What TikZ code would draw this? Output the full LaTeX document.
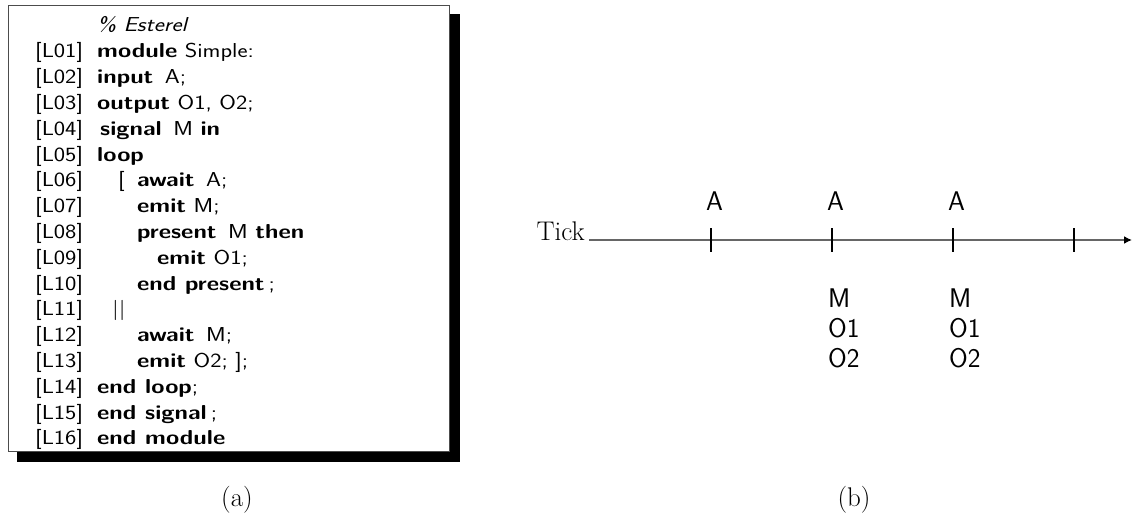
\documentclass[tikz,border=0pt]{standalone}
\usetikzlibrary{arrows.meta}
\newcommand\codefont{\fontsize{24}{26}\selectfont\sffamily}
\newcommand\cs[1]{\scalebox{1}[0.84]{#1}}
\tikzset{
  code/.style={anchor=base west, inner sep=0pt, font=\codefont},
  lab/.style={inner sep=0pt, font=\fontsize{27}{30}\selectfont\sffamily},
  serif/.style={inner sep=0pt, font=\fontsize{27}{30}\selectfont\rmfamily},
  boxline/.style={draw=black!70, line width=0.9pt, fill=white},
  tickline/.style={black, line width=1.2pt},
  axis/.style={black!60, line width=1.6pt, -{Latex[length=8pt,width=8pt,color=black]}}
}
\begin{document}
\begin{tikzpicture}[x=1pt,y=-1pt]
\useasboundingbox (0,0) rectangle (1132,527);
% code box with shadow
\fill[black] (17,14) rectangle (460,462);
\draw[boxline] (8,5) rectangle (449,451);
\node[code] (c0) at (97,{32}) {\cs{\itshape\% Esterel}};
\foreach \k/\lab in {1/L01,2/L02,3/L03,4/L04,5/L05,6/L06,7/L07,8/L08,9/L09,10/L10,11/L11,12/L12,13/L13,14/L14,15/L15,16/L16}{
  \node[code] (lb\k) at (35,{32+\k*25.8}) {\cs{[\lab]}};
}
\node[code] (c1) at (97,{32+1*25.8}) {\cs{\textbf{module} Simple:}};
\node[code] (c2) at (97,{32+2*25.8}) {\cs{\textbf{input}\, A;}};
\node[code] (c3) at (97,{32+3*25.8}) {\cs{\textbf{output} O1, O2;}};
\node[code] (c4) at (100,{32+4*25.8}) {\cs{\textbf{signal}\, M \textbf{in}}};
\node[code] (c5) at (97,{32+5*25.8}) {\cs{\textbf{loop}}};
\node[code] (c6a) at (118,{32+6*25.8}) {\cs{[}};
\node[code] (c6) at (137,{32+6*25.8}) {\cs{\textbf{await}\, A;}};
\node[code] (c7) at (137,{32+7*25.8}) {\cs{\textbf{emit} M;}};
\node[code] (c8) at (137,{32+8*25.8}) {\cs{\textbf{present}\, M \textbf{then}}};
\node[code] (c9) at (157,{32+9*25.8}) {\cs{\textbf{emit} O1;}};
\node[code] (c10) at (137,{32+10*25.8}) {\cs{\textbf{end present}\,;}};
\node[code] (c11) at (112,{32+11*25.8}) {\cs{||}};
\node[code] (c12) at (137,{32+12*25.8}) {\cs{\textbf{await}\, M;}};
\node[code] (c13) at (137,{32+13*25.8}) {\cs{\textbf{emit} O2; ];}};
\node[code] (c14) at (97,{32+14*25.8}) {\cs{\textbf{end loop};}};
\node[code] (c15) at (97,{32+15*25.8}) {\cs{\textbf{end signal}\,;}};
\node[code] (c16) at (97,{32+16*25.8}) {\cs{\textbf{end module}}};
% captions
\node[serif, anchor=base] (capa) at (237,506) {(a)};
\node[serif, anchor=base] (capb) at (854,506) {(b)};
% timeline
\node[serif, anchor=base east] (tick) at (585,240) {Tick};
\coordinate (s) at (589,240);
\coordinate (e) at (1132,240);
\draw[axis] (s) -- (e);
\foreach \i/\x in {1/711,2/832,3/953,4/1074}{
  \coordinate (t\i) at (\x,240);
  \draw[tickline] ([yshift=12pt]t\i) -- ([yshift=-12pt]t\i);
}
\foreach \i/\x in {1/711,2/832,3/953}{
  \node[lab, anchor=base] (a\i) at (\x+3.5,210) {A};
}
\foreach \i/\x in {2/828,3/949}{
  \node[lab, anchor=base west] (m\i) at (\x,307) {M};
  \node[lab, anchor=base west] (oa\i) at (\x,337) {O1};
  \node[lab, anchor=base west] (ob\i) at (\x,367) {O2};
}
\end{tikzpicture}
\end{document}
